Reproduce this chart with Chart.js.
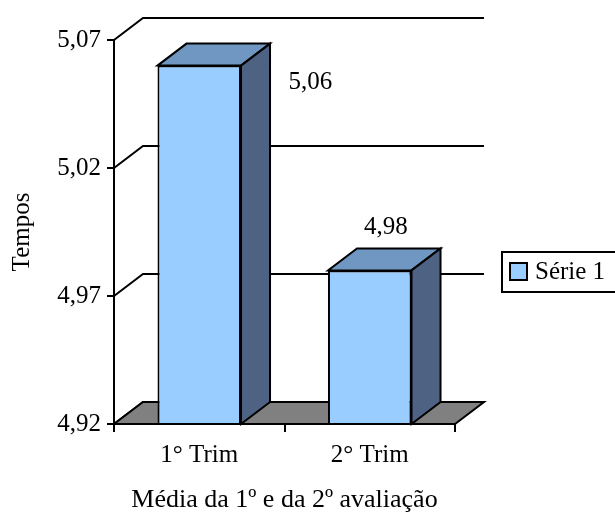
<!DOCTYPE html>
<html>
<head>
  <title>Tempos</title>
  <style>
    body {
      margin: 0;
      background: #fff;
    }
    canvas {
      display: block;
    }
  </style>
</head>
<body>
  <canvas id="chart" width="615" height="516"></canvas>

  <script src="https://cdn.jsdelivr.net/npm/chart.js"></script>
  <script>
    // data
    const categories = ['1° Trim', '2° Trim'];
    const values = [5.06, 4.98];
    const valueLabels = ['5,06', '4,98'];
    const yTickValues = [4.92, 4.97, 5.02, 5.07];
    const yTickLabels = ['4,92', '4,97', '5,02', '5,07'];
    const seriesName = 'Série 1';
    const xTitle = 'Média da 1º e da 2º avaliação';
    const yTitle = 'Tempos';

    // look of the fake 3D
    const DX = 29, DY = -22;
    const labelOffsets = [[111, 17], [16, -43]];
    const FONT = "'Liberation Serif', 'Times New Roman', serif";
    const frontColor = '#99ccff';
    const topColor = '#6f97c1';
    const sideColor = '#4e6384';
    const floorColor = '#808080';

    function poly(ctx, pts, fill) {
      ctx.beginPath();
      ctx.moveTo(pts[0][0], pts[0][1]);
      for (let i = 1; i < pts.length; i++) ctx.lineTo(pts[i][0], pts[i][1]);
      ctx.closePath();
      ctx.fillStyle = fill;
      ctx.fill();
      ctx.stroke();
    }

    const walls = {
      id: 'walls',
      beforeDatasetsDraw(chart) {
        const ctx = chart.ctx;
        const a = chart.chartArea;
        const y = chart.scales.y;
        ctx.save();
        ctx.strokeStyle = '#000';
        ctx.lineWidth = 2;
        // back wall grid lines
        yTickValues.forEach(v => {
          const py = y.getPixelForValue(v);
          ctx.beginPath();
          ctx.moveTo(a.left, py);
          ctx.lineTo(a.left + DX, py + DY);
          ctx.lineTo(a.right + DX, py + DY);
          ctx.stroke();
        });
        // floor
        poly(ctx, [
          [a.left, a.bottom], [a.right, a.bottom],
          [a.right + DX, a.bottom + DY], [a.left + DX, a.bottom + DY]
        ], floorColor);
        ctx.restore();
      },
      afterDatasetsDraw(chart) {
        const ctx = chart.ctx;
        const a = chart.chartArea;
        ctx.save();
        ctx.strokeStyle = '#000';
        ctx.lineWidth = 2;
        chart.getDatasetMeta(0).data.forEach((bar, i) => {
          const p = bar.getProps(['x', 'y', 'base', 'width'], true);
          const l = p.x - p.width / 2, r = p.x + p.width / 2;
          const b = Math.min(p.base, a.bottom);
          poly(ctx, [[l, p.y], [r, p.y], [r + DX, p.y + DY], [l + DX, p.y + DY]], topColor);
          poly(ctx, [[r, p.y], [r + DX, p.y + DY], [r + DX, b + DY], [r, b]], sideColor);
          // front bottom edge
          ctx.beginPath();
          ctx.moveTo(l, b);
          ctx.lineTo(r, b);
          ctx.stroke();

          ctx.fillStyle = '#000';
          ctx.font = '25px ' + FONT;
          ctx.textAlign = 'center';
          ctx.textBaseline = 'middle';
          ctx.fillText(valueLabels[i], p.x + labelOffsets[i][0], p.y + labelOffsets[i][1]);
        });
        ctx.restore();
      },
      afterDraw(chart) {
        // legend box
        const ctx = chart.ctx;
        const a = chart.chartArea;
        const lx = a.right + 47, ly = 252;
        ctx.save();
        ctx.strokeStyle = '#000';
        ctx.lineWidth = 2;
        ctx.strokeRect(lx, ly, 130, 40);
        ctx.fillStyle = frontColor;
        ctx.fillRect(lx + 8, ly + 11, 17, 17);
        ctx.strokeRect(lx + 8, ly + 11, 17, 17);
        ctx.fillStyle = '#000';
        ctx.font = '25px ' + FONT;
        ctx.textAlign = 'left';
        ctx.textBaseline = 'middle';
        ctx.fillText(seriesName, lx + 33, ly + 20);
        ctx.restore();
      }
    };

    new Chart(document.getElementById('chart'), {
      type: 'bar',
      data: {
        labels: categories,
        datasets: [{
          label: seriesName,
          data: values,
          backgroundColor: frontColor,
          borderColor: '#000',
          borderWidth: 2,
          borderSkipped: false,
          categoryPercentage: 1,
          barPercentage: 0.49
        }]
      },
      options: {
        responsive: false,
        animation: false,
        devicePixelRatio: 1,
        layout: { padding: { left: 0, top: 40, right: 160, bottom: 0 } },
        plugins: {
          legend: { display: false },
          tooltip: { enabled: false }
        },
        scales: {
          x: {
            afterFit: s => { s.height = 92; },
            border: { display: true, color: '#000', width: 2 },
            grid: { drawOnChartArea: false, color: '#000', lineWidth: 2, tickLength: 8 },
            ticks: { color: '#000', padding: 8, font: { family: FONT, size: 25 } },
            title: {
              display: true, text: xTitle, color: '#000',
              padding: { top: 4, bottom: 0 },
              font: { family: FONT, size: 26 }
            }
          },
          y: {
            min: 4.92,
            max: 5.07,
            afterFit: s => { s.width = 114; },
            afterBuildTicks: s => { s.ticks = yTickValues.map(v => ({ value: v })); },
            border: { display: true, color: '#000', width: 2 },
            grid: { drawOnChartArea: false, color: '#000', lineWidth: 2, tickLength: 7 },
            ticks: {
              color: '#000', padding: 6,
              font: { family: FONT, size: 25 },
              callback: (v, i) => yTickLabels[i]
            },
            title: {
              display: true, text: yTitle, color: '#000',
              padding: { top: 7, bottom: 0 },
              font: { family: FONT, size: 25 }
            }
          }
        }
      },
      plugins: [walls]
    });
  </script>
</body>
</html>
